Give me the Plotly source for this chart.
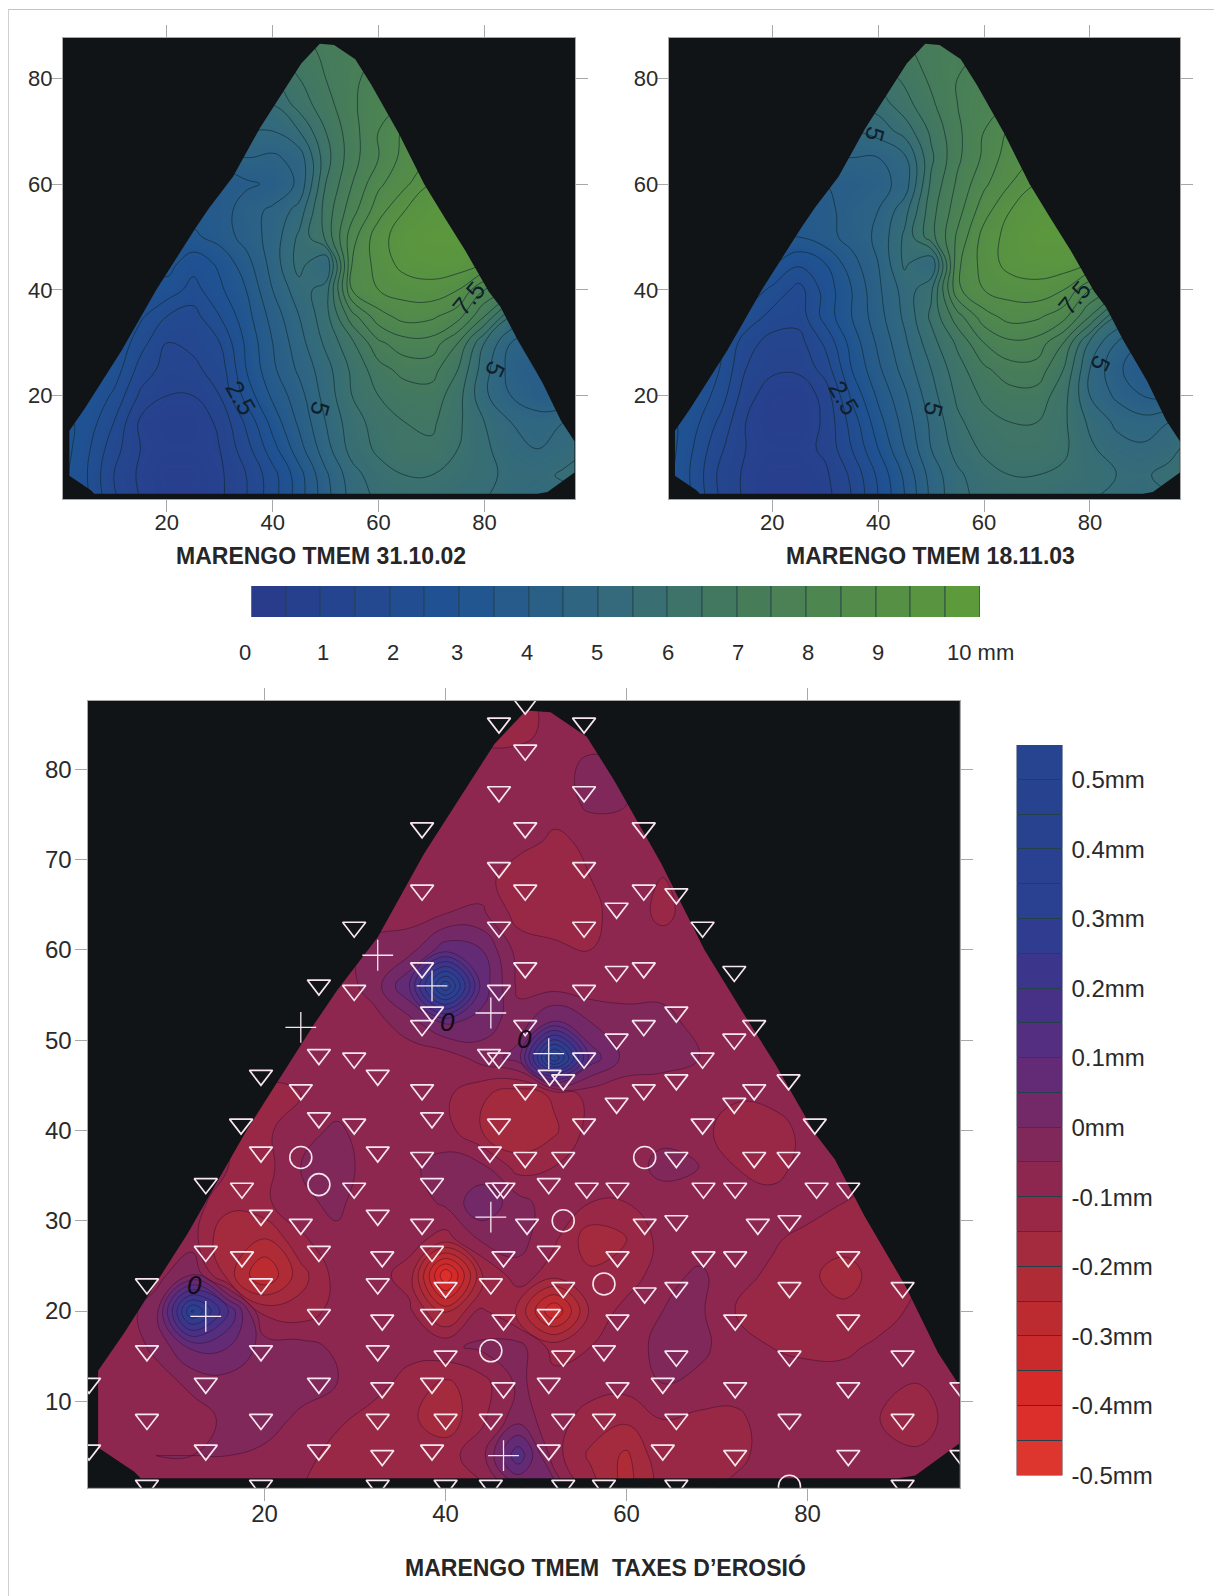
import numpy as np
import plotly.graph_objects as go

W, H = 1214, 1596

# ---- grid of the two thickness maps (mm)
grid_x = [0,5,10,15,20,25,30,35,40,45,50,55,60,65,70,75,80,85,90,95,100]
grid_y = [0,5,10,15,20,25,30,35,40,45,50,55,60,65,70,75,80,85,90]

thickness_2002 = [
 [3.2,2.6,1.6,1.0,0.7,0.7,0.9,1.5,2.3,3.3,4.3,5.2,5.6,5.7,5.7,5.6,5.5,5.2,5.0,5.2,5.4],
 [3.2,2.5,1.5,0.9,0.6,0.6,0.9,1.5,2.3,3.3,4.4,5.3,5.8,6.0,6.0,5.8,5.6,5.4,5.3,5.6,5.8],
 [3.3,2.6,1.7,1.0,0.8,0.8,1.0,1.8,2.8,3.8,4.8,5.7,6.1,6.4,6.4,6.0,5.6,5.2,5.0,5.2,5.5],
 [3.2,2.8,2.0,0.9,0.7,0.7,1.1,2.1,3.2,4.1,5.0,5.8,6.2,6.5,6.6,6.1,5.5,5.0,4.8,5.0,5.3],
 [3.0,3.0,2.4,1.4,1.0,1.0,1.5,2.7,3.6,4.3,5.2,6.0,6.5,6.7,6.8,6.2,5.1,4.5,4.1,4.0,4.2],
 [3.2,3.0,2.8,1.8,1.3,1.4,1.7,3.0,3.9,4.6,5.3,6.1,6.8,7.2,7.2,6.5,5.2,4.3,4.0,4.0,4.0],
 [3.2,3.0,3.0,2.2,1.5,1.6,2.0,3.1,4.0,4.8,5.6,6.4,7.4,7.8,7.8,7.0,5.5,4.5,4.2,4.0,4.0],
 [3.2,3.0,3.0,2.6,2.0,1.8,2.5,3.3,4.2,5.0,5.8,7.3,8.3,8.7,8.6,8.2,7.0,5.5,5.0,5.0,5.0],
 [3.2,3.0,3.0,2.9,2.8,2.3,2.9,3.5,4.5,5.3,5.7,8.5,9.0,9.2,9.3,9.0,8.0,7.5,7.0,7.0,7.0],
 [3.0,3.0,3.0,3.0,3.2,2.7,3.1,3.8,4.7,5.7,5.0,8.5,9.2,9.7,9.8,9.8,9.5,9.0,9.0,9.0,9.0],
 [3.4,3.4,3.4,3.4,3.4,3.4,3.7,4.2,4.7,5.6,6.6,8.3,9.3,9.8,10.0,10.0,10.0,10.0,10.0,10.0,10.0],
 [3.7,3.7,3.7,3.7,3.7,3.7,3.7,4.3,4.6,5.2,6.7,7.8,8.8,9.5,9.8,10.0,10.0,10.0,10.0,10.0,10.0],
 [3.7,3.7,3.7,3.7,3.7,3.7,3.7,3.9,4.1,4.6,6.5,7.5,8.4,8.9,9.5,9.5,9.5,9.5,9.5,9.5,9.5],
 [4.2,4.2,4.2,4.2,4.2,4.2,4.2,4.5,4.4,4.7,6.3,7.3,8.0,8.7,9.0,9.0,9.0,9.0,9.0,9.0,9.0],
 [5.0,5.0,5.0,5.0,5.0,5.0,5.0,5.0,5.0,5.5,6.5,7.3,8.0,8.6,8.6,8.6,8.6,8.6,8.6,8.6,8.6],
 [5.5,5.5,5.5,5.5,5.5,5.5,5.5,5.5,5.5,6.2,6.8,7.4,7.9,8.0,8.0,8.0,8.0,8.0,8.0,8.0,8.0],
 [6.0,6.0,6.0,6.0,6.0,6.0,6.0,6.0,6.0,6.5,7.0,7.4,7.7,8.0,8.0,8.0,8.0,8.0,8.0,8.0,8.0],
 [6.5,6.5,6.5,6.5,6.5,6.5,6.5,6.5,6.5,6.8,7.1,7.3,7.5,7.5,7.5,7.5,7.5,7.5,7.5,7.5,7.5],
 [6.8,6.8,6.8,6.8,6.8,6.8,6.8,6.8,6.8,7.0,7.2,7.4,7.5,7.5,7.5,7.5,7.5,7.5,7.5,7.5,7.5],
]

thickness_2003 = [
 [3.2,2.5,1.5,0.9,0.6,0.6,0.8,1.5,2.5,3.5,4.6,5.4,5.6,5.7,5.7,5.6,5.5,5.3,5.2,5.4,5.6],
 [3.2,2.4,1.4,0.9,0.6,0.6,0.9,1.6,2.6,3.6,4.7,5.4,5.8,6.0,6.0,5.9,5.7,5.5,5.4,5.7,6.0],
 [3.3,2.5,1.6,1.0,0.8,0.8,1.1,2.0,3.0,4.0,5.0,5.7,6.1,6.3,6.3,6.1,5.6,5.2,5.1,5.3,5.8],
 [3.2,2.7,1.9,1.0,0.6,0.6,1.1,2.2,3.3,4.2,5.1,5.9,6.3,6.5,6.5,6.1,5.4,4.9,4.7,5.0,5.3],
 [3.0,2.9,2.3,1.2,0.7,0.6,1.2,2.6,3.6,4.4,5.3,6.1,6.6,6.8,6.8,6.2,5.0,4.4,4.0,3.9,4.1],
 [3.0,2.9,2.5,1.5,1.1,1.1,1.7,3.0,3.9,4.7,5.5,6.3,6.9,7.3,7.3,6.5,5.0,4.1,3.7,3.7,3.8],
 [3.0,2.9,2.7,1.7,1.3,1.3,2.1,3.2,4.1,4.9,5.8,6.6,7.5,7.9,7.8,7.0,5.4,4.5,4.0,4.0,4.0],
 [3.0,2.9,2.8,2.4,1.8,1.7,2.7,3.5,4.3,5.1,6.1,7.3,8.3,8.7,8.6,8.2,7.0,5.5,5.0,5.0,5.0],
 [3.2,3.0,3.0,2.8,2.4,1.8,2.7,3.5,4.4,5.2,5.9,8.4,9.0,9.2,9.3,9.0,8.0,7.5,7.0,7.0,7.0],
 [3.2,3.0,3.0,3.0,3.0,2.6,3.0,3.8,4.5,5.6,5.0,8.4,9.2,9.7,9.8,9.8,9.5,9.0,9.0,9.0,9.0],
 [3.5,3.5,3.5,3.5,3.5,3.5,3.8,4.2,4.6,5.6,6.8,8.1,9.2,9.7,10.0,10.0,10.0,10.0,10.0,10.0,10.0],
 [3.7,3.7,3.7,3.7,3.7,3.7,3.8,4.3,4.5,5.3,6.8,7.8,8.8,9.5,9.8,10.0,10.0,10.0,10.0,10.0,10.0],
 [4.0,4.0,4.0,4.0,4.0,4.0,4.0,4.1,4.3,4.7,6.6,7.6,8.4,9.0,9.5,9.5,9.5,9.5,9.5,9.5,9.5],
 [4.5,4.5,4.5,4.5,4.5,4.5,4.5,4.5,4.5,4.9,6.4,7.4,8.1,8.8,9.0,9.0,9.0,9.0,9.0,9.0,9.0],
 [5.0,5.0,5.0,5.0,5.0,5.0,5.0,5.0,5.2,5.7,6.6,7.4,8.0,8.6,8.6,8.6,8.6,8.6,8.6,8.6,8.6],
 [5.5,5.5,5.5,5.5,5.5,5.5,5.5,5.5,5.7,6.3,6.9,7.5,7.9,8.0,8.0,8.0,8.0,8.0,8.0,8.0,8.0],
 [6.0,6.0,6.0,6.0,6.0,6.0,6.0,6.0,6.2,6.6,7.1,7.5,7.7,8.0,8.0,8.0,8.0,8.0,8.0,8.0,8.0],
 [6.6,6.6,6.6,6.6,6.6,6.6,6.6,6.6,6.6,6.9,7.2,7.4,7.5,7.5,7.5,7.5,7.5,7.5,7.5,7.5,7.5],
 [6.9,6.9,6.9,6.9,6.9,6.9,6.9,6.9,6.9,7.1,7.3,7.4,7.5,7.5,7.5,7.5,7.5,7.5,7.5,7.5,7.5],
]

# ---- erosion rate map (hundredths of a mm)
rate_x = [0,4,8,12,16,20,24,28,32,36,40,44,48,52,56,60,64,68,72,76,80,84,88,92,96,100]
rate_y = [0,4,8,12,16,20,24,28,32,36,40,44,48,52,56,60,64,68,72,76,80,84,88]
rate_hundredths = [
 [-8,-8,-7,-6,-7,-8,-10,-13,-13,-12,-12,-11,-3,0,-12,-22,-13,-11,-8,-7,-4,-6,-8,-8,-8,-8],
 [-8,-7,-5,-5,-5,-6,-8,-12,-13,-13,-12,-7,14,-8,-16,-21,-11,-10,-12,-7,-7,-7,-8,-9,-8,-8],
 [-8,-8,-8,-7,-4,-3,-6,-9,-12,-14,-18,-11,-2,-8,-12,-14,-10,-11,-11,-8,-8,-8,-10,-13,-8,-8],
 [-8,-8,-7,-4,-2,-2,-3,-5,-8,-12,-16,-12,-4,-8,-8,-8,-5,-7,-8,-8,-8,-8,-8,-10,-8,-8],
 [-8,-8,-4,6,5,-2,-3,-6,-8,-8,-6,-4,-3,-12,-10,-8,-3,-3,-9,-10,-11,-11,-9,-8,-8,-8],
 [-8,-8,-2,36,15,-12,-13,-8,-8,-9,-22,-9,-16,-35,-14,-8,-5,-4,-10,-12,-12,-14,-12,-9,-8,-8],
 [-8,-8,-7,0,-18,-30,-17,-8,-8,-12,-45,-16,-7,-13,-14,-13,-7,-4,-8,-11,-14,-17,-13,-10,-8,-8],
 [-8,-8,-8,-8,-20,-20,-11,-6,-8,-8,-12,-4,-3,-9,-18,-15,-8,-8,-5,-9,-12,-13,-12,-8,-8,-8],
 [-8,-8,-8,-8,-13,-11,-6,-4,-8,-8,-4,4,-3,-8,-10,-10,-8,-7,-8,-8,-7,-10,-12,-8,-8,-8],
 [-8,-8,-8,-8,-10,-12,-5,-3,-7,-6,-3,-4,-12,-10,-8,-8,-3,-5,-10,-12,-8,-8,-8,-8,-8,-8],
 [-9,-9,-9,-9,-10,-11,-7,-4,-8,-7,-8,-15,-20,-16,-8,-5,-7,-8,-13,-13,-8,-8,-8,-8,-8,-8],
 [-8,-8,-8,-8,-9,-11,-10,-8,-8,-8,-9,-14,-18,-14,-8,-8,-8,-8,-9,-8,-8,-8,-8,-8,-8,-8],
 [-8,-8,-8,-8,-8,-8,-8,-8,-8,-8,-8,-3,2,45,8,-2,-3,-5,-8,-8,-8,-8,-8,-8,-8,-8],
 [-8,-8,-8,-8,-8,-8,-8,-8,-7,-2,6,3,-3,6,0,-2,-2,-8,-8,-8,-8,-8,-8,-8,-8,-8],
 [-8,-8,-8,-8,-8,-8,-8,-8,-3,10,45,8,-6,-7,-8,-8,-8,-8,-8,-8,-8,-8,-8,-8,-8,-8],
 [-8,-8,-8,-8,-8,-8,-8,-8,-3,-2,8,5,-7,-8,-10,-8,-8,-8,-8,-8,-8,-8,-8,-8,-8,-8],
 [-8,-8,-8,-8,-8,-8,-8,-8,-8,-7,-5,-4,-12,-15,-11,-8,-11,-8,-8,-8,-8,-8,-8,-8,-8,-8],
 [-8,-8,-8,-8,-8,-8,-8,-8,-8,-8,-8,-8,-13,-14,-10,-8,-10,-8,-8,-8,-8,-8,-8,-8,-8,-8],
 [-8,-8,-8,-8,-8,-8,-8,-8,-8,-8,-8,-8,-8,-11,-9,-8,-8,-8,-8,-8,-8,-8,-8,-8,-8,-8],
 [-8,-8,-8,-8,-8,-8,-8,-8,-8,-8,-8,-8,-8,-8,-4,-5,-8,-8,-8,-8,-8,-8,-8,-8,-8,-8],
 [-8,-8,-8,-8,-8,-8,-8,-8,-8,-8,-8,-8,-8,-8,-3,-5,-8,-8,-8,-8,-8,-8,-8,-8,-8,-8],
 [-8,-8,-8,-8,-8,-8,-8,-8,-8,-8,-8,-11,-11,-9,-8,-8,-8,-8,-8,-8,-8,-8,-8,-8,-8,-8],
 [-8,-8,-8,-8,-8,-8,-8,-8,-8,-8,-8,-11,-11,-9,-8,-8,-8,-8,-8,-8,-8,-8,-8,-8,-8,-8],
]

# ---- outline of the measured area (data coords)
outline_x = [48.9,51.6,55.6,58.6,63.8,68.6,72.7,76.4,80.8,83,86.3,90.8,94.4,97,97,91.9,90,6.3,5.6,1.6,1.6,4.5,11.5,18,25.5,28,32.5,37.6,45.4,48.9]
outline_y = [86.5,86.3,83.6,78.8,69.6,60,53.3,47.4,39.7,36.8,30.5,22.8,15.4,11.4,5.5,1.8,1.5,1.5,2.2,4.9,13.4,17.6,28.6,40,51.8,55.5,61.4,70.6,82.8,86.5]

# ---- measuring stations
tri_x = [48.8,45.9,55.3,48.8,45.9,55.3,37.4,48.8,61.9,45.9,55.3,37.4,48.8,61.9,65.5,58.9,29.9,45.9,55.3,68.4,
 37.4,48.8,58.9,61.9,71.9,26,29.9,45.9,55.3,38.5,37.4,48.8,61.9,65.5,58.9,71.9,74.1,26,29.9,44.8,45.9,55.3,68.4,
 32.5,51.5,53,65.5,61.9,77.9,19.6,24,37.4,48.8,74.1,58.9,71.9,26,29.9,38.5,45.9,55.3,68.4,80.8,17.4,
 19.6,32.5,37.4,44.9,48.8,53,65.5,74.1,77.9,
 13.5,17.5,29.9,38.5,45.7,46.4,51.4,55.6,59,68.5,72,81,84.5,
 19.6,24,32.5,37.4,49,62,65.5,74.5,78,
 13.5,17.5,26,33,38.5,46.4,51.4,59,68.5,72,84.5,
 7,19.6,32.5,40,45,53,62,65.5,78,90.5,
 26,33,38.5,46.4,51.4,59,72,84.5,
 7,19.6,32.5,40,53,57.5,65.5,78,90.5,
 0.6,13.5,26,33,38.5,46.4,51.4,59,64,72,84.5,97,
 7,19.6,32.5,40,45,53,57.5,65.5,78,90.5,
 0.6,13.5,26,33,38.5,51.4,64,72,84.5,97,
 7,19.6,32.5,40,45,53,57.5,65.5,90.5]
tri_y = [87.2,85.1,85.1,82.1,77.5,77.5,73.5,73.5,73.5,69.1,69.1,66.6,66.6,66.6,66.2,64.6,62.5,62.5,62.5,62.5,
 58,58,57.6,58,57.6,56.1,55.5,55.5,55.5,53.1,51.6,51.6,51.6,53.1,50.1,50.1,51.6,48.4,48,48.4,48,48,48,
 46.1,46.1,45.6,45.6,44.5,45.6,46.1,44.5,44.5,44.5,44.5,43,43,41.4,40.7,41.4,40.7,40.7,40.7,40.7,40.7,
 37.6,37.6,37,37.6,37,37,37,37,37,
 34.1,33.6,33.6,34.1,33.6,33.6,34.1,33.6,33.6,33.6,33.6,33.6,33.6,
 30.6,29.6,30.6,29.6,29.6,29.6,30,29.6,30,
 26.6,26,26.6,26,26.6,26,26.6,26,26,26,26,
 23,23,23,22.6,23,22.6,22,22.6,22.6,22.6,
 19.6,19,19.6,19,19.6,19,19,19,
 15.6,15.6,15.6,15,15,15.6,15,15,15,
 12,12,12,11.5,12,11.5,12,11.5,12,11.5,11.5,11.5,
 8,8,8,8,8,8,8,8,8,8,
 4.6,4.6,4.6,4,4.6,4.6,4.6,4,4,4,
 0.7,0.7,0.7,0.7,0.7,0.7,0.7,0.7,0.7]
circle_x = [24,26,62,53,57.5,45,78]
circle_y = [37,34,37,30,23,15.6,0.6]
plus_x = [13.5,45,46.4,32.5,38.5,45,24,51.4]
plus_y = [19.4,30.4,4,59.4,56,53,51.4,48.5]

# ---- legends
thick_cells = [0.25+0.5*i for i in range(21)]
thick_label_px = [245,322.6,392.8,456.9,527,597,667.5,737.8,808,878,981]
thick_labels = ["0","1","2","3","4","5","6","7","8","9","10 mm"]
rate_cells = [-0.475+0.05*i for i in range(21)]
rate_ticks = [0.5,0.4,0.3,0.2,0.1,0,-0.1,-0.2,-0.3,-0.4,-0.5]
rate_labels = ["0.5mm","0.4mm","0.3mm","0.2mm","0.1mm","0mm","-0.1mm","-0.2mm","-0.3mm","-0.4mm","-0.5mm"]

BLACK = "#111416"
GRAY = "#a8a8a8"
TXT = "#2a2a2a"
FONT = "Liberation Sans, Arial, sans-serif"

thick_scale = [[0,"#2a3a8c"],[3/10.5,"#1f5392"],[5/10.5,"#31687f"],[7/10.5,"#457a5c"],[1,"#5f9c38"]]
rmin, rmax = -0.5, 0.55
def rn(v): return (v-rmin)/(rmax-rmin)
rate_scale = [[0,"#dc3a30"],[rn(-0.4),"#dc2a28"],[rn(-0.3),"#c22a2c"],[rn(-0.2),"#a92d3a"],[rn(-0.1),"#93264a"],
              [rn(0),"#7b2860"],[rn(0.1),"#5b2c7c"],[rn(0.2),"#40338a"],[rn(0.3),"#2b3f90"],[1,"#25448f"]]

def dx(a, b): return [a/W, b/W]
def dy(top, bottom): return [1-bottom/H, 1-top/H]

fig = go.Figure()
XR, YR = [0.4, 97.1], [0.5, 87.6]

def mask(xa, ya, xr, yr):
    xs = list(outline_x) + [outline_x[0], xr[0], xr[0], xr[1], xr[1], outline_x[0]]
    ys = list(outline_y) + [yr[1], yr[1], yr[0], yr[0], yr[1], yr[1]]
    fig.add_trace(go.Scatter(x=xs, y=ys, mode="lines", fill="toself", fillcolor=BLACK,
                             line=dict(width=0, color=BLACK), xaxis=xa, yaxis=ya, showlegend=False, hoverinfo="skip"))

for z, xa, ya in [(thickness_2002,"x","y"),(thickness_2003,"x2","y2")]:
    fig.add_trace(go.Contour(x=grid_x, y=grid_y, z=z, zmin=0, zmax=10.5, colorscale=thick_scale, showscale=False,
        autocontour=False, contours=dict(start=0.5,end=10,size=0.5,coloring="heatmap",showlines=True),
        line=dict(width=0.9,color="rgba(15,40,45,0.7)",smoothing=1.2), xaxis=xa, yaxis=ya, hoverinfo="skip"))
    mask(xa, ya, XR, YR)

rate_z = (np.array(rate_hundredths)/100.0).tolist()
fig.add_trace(go.Contour(x=rate_x, y=rate_y, z=rate_z, zmin=rmin, zmax=rmax, colorscale=rate_scale, showscale=False,
    autocontour=False, contours=dict(start=-0.5,end=0.55,size=0.05,coloring="fill",showlines=True),
    line=dict(width=0.8,color="rgba(50,10,40,0.55)",smoothing=1.3), xaxis="x3", yaxis="y3", hoverinfo="skip"))
mask("x3","y3",[0.43,96.8],[0.44,87.55])

MK = "#f7e6ef"
fig.add_trace(go.Scatter(x=tri_x,y=tri_y,mode="markers",marker=dict(symbol="triangle-down-open",size=20,color=MK,line=dict(width=1.7,color=MK)),xaxis="x3",yaxis="y3",showlegend=False))
fig.add_trace(go.Scatter(x=circle_x,y=circle_y,mode="markers",marker=dict(symbol="circle-open",size=22,color=MK,line=dict(width=1.6,color=MK)),xaxis="x3",yaxis="y3",showlegend=False))
fig.add_trace(go.Scatter(x=plus_x,y=plus_y,mode="markers",marker=dict(symbol="cross-thin-open",size=22,color=MK,line=dict(width=1.3,color=MK)),xaxis="x3",yaxis="y3",showlegend=False))

fig.add_trace(go.Heatmap(x=thick_cells,y=[0],z=[thick_cells],zmin=0,zmax=10.5,colorscale=thick_scale,showscale=False,xgap=1,xaxis="x4",yaxis="y4",hoverinfo="skip"))
fig.add_trace(go.Heatmap(x=[0],y=rate_cells,z=[[v] for v in rate_cells],zmin=rmin,zmax=rmax,colorscale=rate_scale,showscale=False,ygap=1,xaxis="x5",yaxis="y5",hoverinfo="skip"))

def ax(domain, rng, tv, size=22, anchor=None, standoff=-8):
    return dict(domain=domain, range=rng, tickvals=tv, ticktext=[str(t) for t in tv], ticks="outside", ticklen=12, tickcolor=GRAY,
                tickwidth=1, showline=True, linecolor=GRAY, linewidth=1, mirror="allticks", showgrid=False, zeroline=False,
                showticklabels=True, tickfont=dict(family=FONT,size=size,color=TXT), anchor=anchor, ticklabelstandoff=standoff, automargin=False)

hidden = dict(showticklabels=False, ticks="", showgrid=False, zeroline=False, showline=False, automargin=False)
layout = dict(width=W, height=H, autosize=False, margin=dict(l=0,r=0,t=0,b=0,pad=0,autoexpand=False), paper_bgcolor="white", plot_bgcolor="#24404a", showlegend=False,
    xaxis=ax(dx(63,575),XR,[20,40,60,80],anchor="y"), yaxis=ax(dy(38,499),YR,[20,40,60,80],anchor="x",standoff=-7),
    xaxis2=ax(dx(668.6,1180.4),XR,[20,40,60,80],anchor="y2"), yaxis2=ax(dy(38,499),YR,[20,40,60,80],anchor="x2",standoff=-7),
    xaxis3=ax(dx(87.5,959.6),[0.43,96.8],[20,40,60,80],size=24,anchor="y3"),
    yaxis3=ax(dy(701,1487.7),[0.44,87.55],[10,20,30,40,50,60,70,80],size=24,anchor="x3",standoff=-2),
    xaxis4=dict(domain=dx(251.4,980),range=[0,10.5],anchor="y4",**hidden),
    yaxis4=dict(domain=dy(586,617),range=[-0.5,0.5],anchor="x4",**hidden),
    xaxis5=dict(domain=dx(1016.6,1062.4),range=[-0.5,0.5],anchor="y5",**hidden),
    yaxis5=dict(domain=dy(745,1475.5),range=[-0.5,0.55],anchor="x5",side="right",tickvals=rate_ticks,ticktext=rate_labels,
                ticks="",showgrid=False,zeroline=False,showline=False,ticklabelstandoff=8,automargin=False,
                tickfont=dict(family=FONT,size=24,color=TXT)),
)
fig.update_layout(**layout)

def note(text,x,y,xref,yref,size,angle=0,color="#0f1f2c",bold=False,italic=False):
    t = text
    if bold: t = f"<b>{t}</b>"
    if italic: t = f"<i>{t}</i>"
    fig.add_annotation(text=t,x=x,y=y,xref=xref,yref=yref,showarrow=False,textangle=angle,
                       font=dict(family=FONT,size=size,color=color),xanchor="center",yanchor="middle")

for lbl,x,y,a in [("2.5",34,19.5,60),("5",49,17.5,105),("7.5",77,38.5,-50),("5",82,25,115)]:
    note(lbl,x,y,"x","y",25,a)
for lbl,x,y,a in [("2.5",33.5,19.5,60),("5",50.5,17.5,105),("7.5",77,38.5,-50),("5",82,26,115),("5",39.5,69.5,105)]:
    note(lbl,x,y,"x2","y2",25,a)
for x,y in [(12.2,22.9),(40.2,52),(48.7,50.1)]:
    note("0",x,y,"x3","y3",26,0,"#140a14",italic=True)

def py(p): return 1-p/H
note("MARENGO TMEM 31.10.02",320.5/W,py(556),"paper","paper",23,color="#262626",bold=True)
note("MARENGO TMEM 18.11.03",930/W,py(556),"paper","paper",23,color="#262626",bold=True)
note("MARENGO TMEM&nbsp;&nbsp;TAXES D\u2019EROSI\u00d3",605/W,py(1567),"paper","paper",23,color="#262626",bold=True)
for px,l in zip(thick_label_px,thick_labels):
    note(l,px/W,py(652),"paper","paper",22,color=TXT)

fig.add_shape(type="line",xref="paper",yref="paper",x0=8/W,x1=1,y0=py(9.5),y1=py(9.5),line=dict(color="#c4c4c4",width=1))
fig.add_shape(type="line",xref="paper",yref="paper",x0=8.5/W,x1=8.5/W,y0=0,y1=py(9.5),line=dict(color="#d0d0d0",width=1))

fig.write_html("out.html", config=dict(displayModeBar=False), post_script="document.body.style.margin='0';document.documentElement.style.overflow='hidden';")
